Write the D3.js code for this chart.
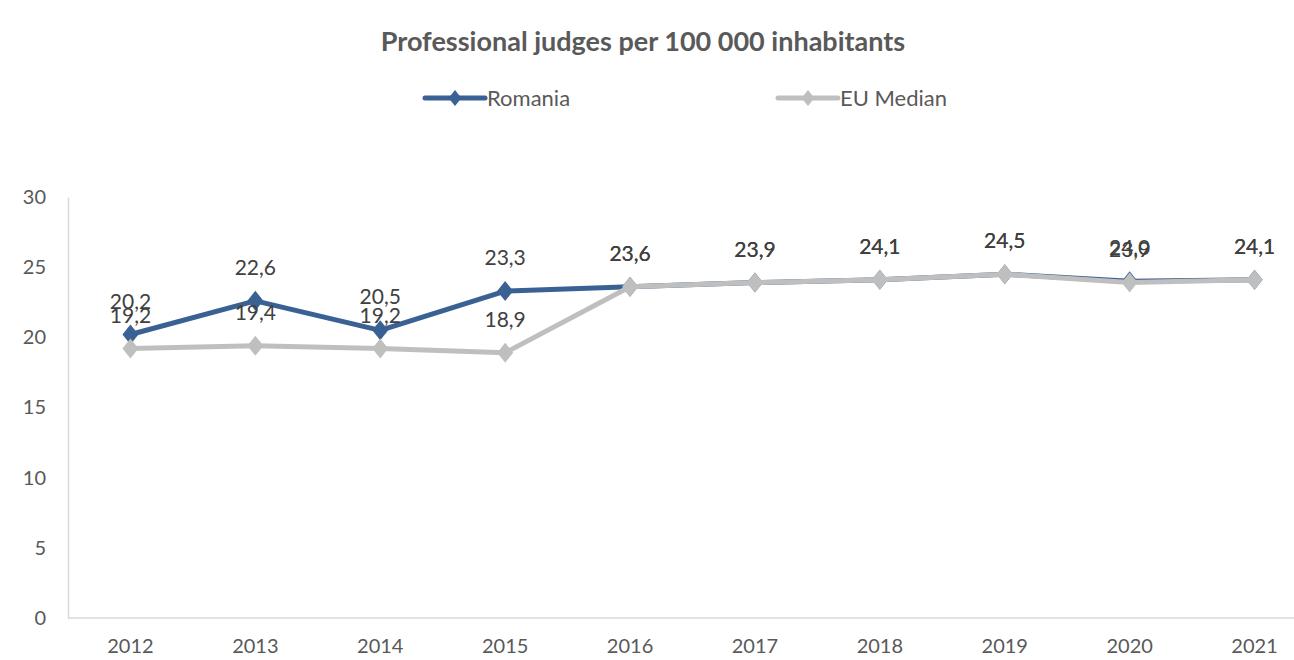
<!DOCTYPE html>
<html>
<head>
<meta charset="utf-8">
<script src="https://cdn.jsdelivr.net/npm/d3@7"></script>
<style>
  body { margin: 0; background: #fff; }
  svg { font-family: Lato, "Open Sans", sans-serif; }
</style>
</head>
<body>
<div id="chart"></div>
<script>
const years = ["2012", "2013", "2014", "2015", "2016", "2017", "2018", "2019", "2020", "2021"];
const romania = [20.2, 22.6, 20.5, 23.3, 23.6, 23.9, 24.1, 24.5, 24.0, 24.1];
const euMedian = [19.2, 19.4, 19.2, 18.9, 23.6, 23.9, 24.1, 24.5, 23.9, 24.1];
const yTicks = [0, 5, 10, 15, 20, 25, 30];

const width = 1294, height = 660;
const svg = d3.select("#chart").append("svg")
    .attr("width", width)
    .attr("height", height);

const x = d3.scaleBand().domain(years).range([68, 1317]);
const y = d3.scaleLinear().domain([0, 30]).range([618, 197]);
const fmt = v => d3.format(".1f")(v).replace(".", ",");

// title
svg.append("text")
    .attr("x", 643).attr("y", 51)
    .attr("text-anchor", "middle")
    .style("font-size", "27px").style("font-weight", "bold")
    .style("fill", "#595959")
    .text("Professional judges per 100 000 inhabitants");

// axes
const yAxis = svg.append("g")
    .attr("transform", "translate(68,0)")
    .call(d3.axisLeft(y).tickValues(yTicks).tickSize(0).tickPadding(22));
yAxis.select(".domain").attr("stroke", "#d9d9d9").attr("stroke-width", 1.5);
yAxis.selectAll("text").style("font-size", "20px").style("fill", "#595959")
    .attr("font-family", "Lato, sans-serif");

const xAxis = svg.append("g")
    .attr("transform", "translate(0,618)")
    .call(d3.axisBottom(x).tickSize(0).tickPadding(21));
xAxis.select(".domain").remove();
xAxis.append("line").attr("x1", 68).attr("x2", 1294)
    .attr("stroke", "#d9d9d9").attr("stroke-width", 1.5);
xAxis.selectAll("text").style("font-size", "20px").style("fill", "#595959")
    .attr("font-family", "Lato, sans-serif");

const series = [
  { name: "Romania", values: romania, color: "#3a6193" },
  { name: "EU Median", values: euMedian, color: "#bfbfbf" }
];

const cx = d => x(d.year) + x.bandwidth() / 2;
const diamond = "M0,-10L8,0L0,10L-8,0Z";

series.forEach(s => {
  const pts = s.values.map((v, i) => ({ year: years[i], v }));
  svg.append("path")
      .datum(pts)
      .attr("fill", "none")
      .attr("stroke", s.color)
      .attr("stroke-width", 5)
      .attr("stroke-linejoin", "round")
      .attr("d", d3.line().x(cx).y(d => y(d.v)));
  svg.append("g").selectAll("path")
      .data(pts).enter().append("path")
      .attr("d", diamond)
      .attr("transform", d => `translate(${cx(d)},${y(d.v)})`)
      .attr("fill", s.color);
  svg.append("g").selectAll("text")
      .data(pts).enter().append("text")
      .attr("x", cx)
      .attr("y", d => y(d.v) - 26)
      .attr("text-anchor", "middle")
      .style("font-size", "21px")
      .style("fill", "#404040")
      .text(d => fmt(d.v));
});

// legend
const legend = svg.append("g");
const legendItems = [
  { s: series[0], x0: 425 },
  { s: series[1], x0: 778 }
];
legendItems.forEach(it => {
  legend.append("line")
      .attr("x1", it.x0).attr("x2", it.x0 + 60)
      .attr("y1", 98).attr("y2", 98)
      .attr("stroke", it.s.color).attr("stroke-width", 5)
      .attr("stroke-linecap", "round");
  legend.append("path").attr("d", diamond)
      .attr("transform", `translate(${it.x0 + 30},98) scale(0.8)`)
      .attr("fill", it.s.color);
  legend.append("text")
      .attr("x", it.x0 + 62).attr("y", 106)
      .style("font-size", "22px").style("fill", "#595959")
      .text(it.s.name);
});
</script>
</body>
</html>
